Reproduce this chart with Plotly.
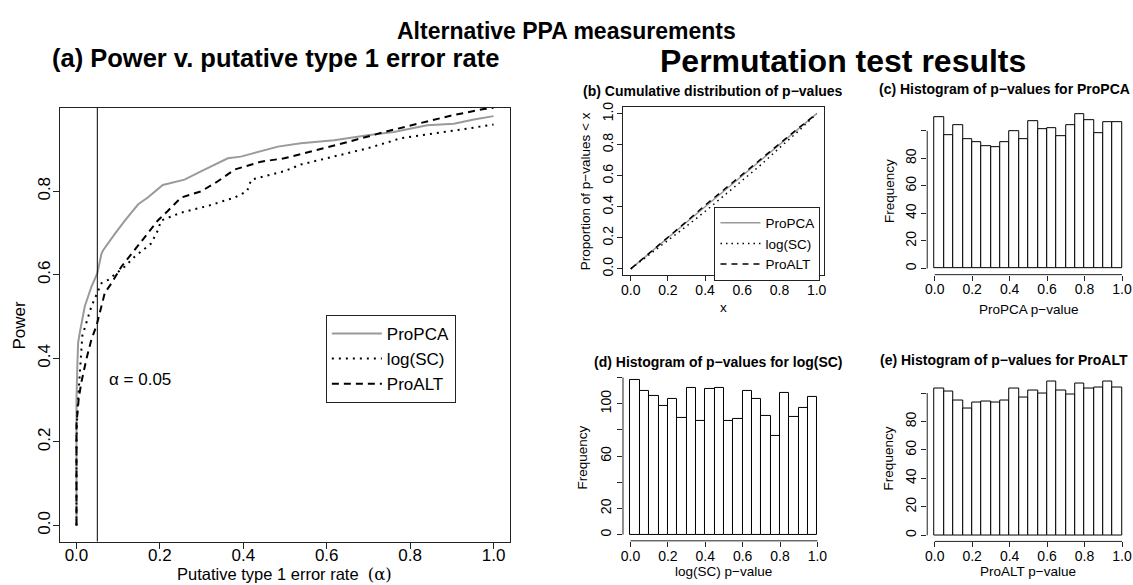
import plotly.graph_objects as go

W, H = 1133, 585
FONT = "Liberation Sans, Arial, Helvetica, sans-serif"
GRAY = "#9a9a9a"
AX = "#222222"

# ---------------- data: panel (a) power curves ----------------
propca_x = [0, 0, 0.002, 0.004, 0.008, 0.02, 0.036, 0.05, 0.06, 0.064, 0.092, 0.116, 0.148, 0.171,
            0.207, 0.259, 0.307, 0.363, 0.394, 0.483, 0.538, 0.618, 0.698, 0.761, 0.841, 0.905, 0.953, 1.0]
propca_y = [0, 0.30, 0.38, 0.438, 0.462, 0.525, 0.572, 0.604, 0.651, 0.659, 0.698, 0.73, 0.769, 0.785,
            0.815, 0.828, 0.852, 0.879, 0.883, 0.907, 0.915, 0.922, 0.934, 0.942, 0.958, 0.962, 0.972, 0.98]

logsc_x = [0, 0, 0.002, 0.006, 0.014, 0.036, 0.052, 0.06, 0.076, 0.116, 0.139, 0.179, 0.195, 0.203,
           0.251, 0.315, 0.379, 0.409, 0.419, 0.498, 0.538, 0.618, 0.698, 0.778, 0.857, 0.937, 1.0]
logsc_y = [0, 0.2, 0.273, 0.328, 0.454, 0.525, 0.564, 0.58, 0.588, 0.62, 0.643, 0.675, 0.706, 0.73,
           0.749, 0.765, 0.785, 0.8, 0.828, 0.848, 0.864, 0.883, 0.903, 0.927, 0.938, 0.95, 0.96]

proalt_x = [0, 0, 0.0055, 0.012, 0.024, 0.036, 0.048, 0.06, 0.068, 0.084, 0.108, 0.139, 0.171, 0.195,
            0.219, 0.251, 0.299, 0.339, 0.379, 0.443, 0.498, 0.577, 0.65, 0.738, 0.817, 0.897, 0.977, 1.0]
proalt_y = [0, 0.242, 0.305, 0.344, 0.399, 0.446, 0.478, 0.525, 0.557, 0.58, 0.62, 0.659, 0.698, 0.73,
            0.753, 0.785, 0.8, 0.824, 0.852, 0.871, 0.879, 0.899, 0.918, 0.942, 0.962, 0.981, 0.997, 1.0]

alpha_level = 0.05

# ---------------- data: panel (b) cumulative distributions ----------------
cdf_x = [0.0, 0.1, 0.2, 0.3, 0.4, 0.5, 0.6, 0.7, 0.8, 0.9, 1.0]
cdf_propca = [0.0, 0.1, 0.2, 0.3, 0.405, 0.505, 0.605, 0.705, 0.805, 0.9, 1.0]
cdf_logsc = [0.0, 0.09, 0.185, 0.275, 0.37, 0.47, 0.57, 0.67, 0.78, 0.885, 1.0]
cdf_proalt = [0.0, 0.1, 0.2, 0.305, 0.41, 0.51, 0.61, 0.71, 0.81, 0.905, 1.0]

# ---------------- data: histograms (20 bins of width 0.05) ----------------
bin_mid = [0.025, 0.075, 0.125, 0.175, 0.225, 0.275, 0.325, 0.375, 0.425, 0.475,
           0.525, 0.575, 0.625, 0.675, 0.725, 0.775, 0.825, 0.875, 0.925, 0.975]
bin_width = 0.05
hist_propca = [110, 97, 104, 94, 92, 89, 88, 92, 100, 94, 107, 101, 102, 96, 104, 112, 108, 98, 106, 106]
hist_logsc = [118, 110, 106, 98, 104, 89, 112, 87, 111, 112, 87, 88, 110, 104, 91, 75, 108, 90, 97, 105]
hist_proalt = [103, 101, 95, 89, 93, 94, 93, 95, 103, 97, 102, 100, 108, 102, 99, 107, 103, 104, 108, 104]

tick01 = [0, 0.2, 0.4, 0.6, 0.8, 1.0]


def dx(a, b):
    return [a / W, b / W]


def dy(top, bottom):
    return [1 - bottom / H, 1 - top / H]


fig = go.Figure()

# panel (a)
fig.add_trace(go.Scatter(x=propca_x, y=propca_y, mode="lines", name="ProPCA",
                         line=dict(color=GRAY, width=2), xaxis="x", yaxis="y", legend="legend"))
fig.add_trace(go.Scatter(x=logsc_x, y=logsc_y, mode="lines", name="log(SC)",
                         line=dict(color="black", width=2, dash="2px,5px"), xaxis="x", yaxis="y", legend="legend"))
fig.add_trace(go.Scatter(x=proalt_x, y=proalt_y, mode="lines", name="ProALT",
                         line=dict(color="black", width=2, dash="7px,5px"), xaxis="x", yaxis="y", legend="legend"))

# panel (b)
fig.add_trace(go.Scatter(x=cdf_x, y=cdf_propca, mode="lines", name="ProPCA",
                         line=dict(color=GRAY, width=1.5), xaxis="x2", yaxis="y2", legend="legend2"))
fig.add_trace(go.Scatter(x=cdf_x, y=cdf_logsc, mode="lines", name="log(SC)",
                         line=dict(color="black", width=1.5, dash="1.5px,4px"), xaxis="x2", yaxis="y2", legend="legend2"))
fig.add_trace(go.Scatter(x=cdf_x, y=cdf_proalt, mode="lines", name="ProALT",
                         line=dict(color="black", width=1.5, dash="6px,5px"), xaxis="x2", yaxis="y2", legend="legend2"))

# histograms
for counts, xa, ya in [(hist_propca, "x3", "y3"), (hist_logsc, "x4", "y4"), (hist_proalt, "x5", "y5")]:
    fig.add_trace(go.Bar(x=bin_mid, y=counts, width=bin_width, xaxis=xa, yaxis=ya, showlegend=False,
                         marker=dict(color="white", line=dict(color="black", width=1))))

common = dict(showgrid=False, zeroline=False, ticks="outside", tickcolor=AX, linecolor=AX)


def xax(domain, anchor, size, box, standoff, ticklen=5, **kw):
    d = dict(domain=domain, range=[-0.04, 1.04], tickvals=tick01, tickformat=".1f",
             showline=box, mirror=box, ticklen=ticklen, anchor=anchor, ticklabelstandoff=standoff,
             tickfont=dict(family=FONT, color="black", size=size), **common)
    d.update(kw)
    return d


def yax(domain, rng, vals, anchor, size, box, standoff, ticklen=5, **kw):
    d = dict(domain=domain, range=rng, tickvals=vals, tickangle=-90,
             showline=box, mirror=box, ticklen=ticklen, anchor=anchor, ticklabelstandoff=standoff,
             tickfont=dict(family=FONT, color="black", size=size), **common)
    d.update(kw)
    return d


layout = dict(
    width=W, height=H, margin=dict(l=0, r=0, t=0, b=0),
    paper_bgcolor="white", plot_bgcolor="white",
    font=dict(family=FONT, color="black"),
    bargap=0,
    xaxis=xax(dx(58, 510), "y", 17, True, -8, ticklen=6),
    yaxis=yax(dy(103, 542), [-0.0385, 1.0], [0, 0.2, 0.4, 0.6, 0.8], "x", 17, True, -4, ticklen=6,
              tickformat=".1f"),
    xaxis2=xax(dx(623.5, 825), "y2", 14, True, -3),
    yaxis2=yax(dy(102.7, 272.3), [-0.04, 1.04], tick01, "x2", 14, True, -1, tickformat=".1f"),
    xaxis3=xax(dx(928.5, 1131.5), "y3", 14, False, -3),
    yaxis3=yax(dy(103.4, 271.9), [-4.48, 116.48], [0, 20, 40, 60, 80, 100], "x3", 14, False, 0,
               ticktext=["0", "20", "40", "60", "80", ""]),
    xaxis4=xax(dx(623.2, 825.8), "y4", 14, False, -3),
    yaxis4=yax(dy(372.4, 541.3), [-4.72, 122.72], [0, 20, 40, 60, 80, 100, 120], "x4", 14, False, 0,
               ticktext=["0", "20", "", "60", "", "100", ""]),
    xaxis5=xax(dx(928.5, 1131.5), "y5", 14, False, -3),
    yaxis5=yax(dy(374, 541.9), [-4.32, 112.32], [0, 20, 40, 60, 80, 100], "x5", 14, False, 0,
               ticktext=["0", "20", "40", "60", "80", ""]),
    legend=dict(x=325 / W, y=1 - 312.7 / H, xanchor="left", yanchor="top", bgcolor="white",
                bordercolor=AX, borderwidth=1, font=dict(size=17, family=FONT), itemwidth=50),
    legend2=dict(x=715 / W, y=1 - 203 / H, xanchor="left", yanchor="top", bgcolor="white",
                 bordercolor=AX, borderwidth=1, font=dict(size=13.5, family=FONT), itemwidth=40),
)
fig.update_layout(**layout)

shapes = []
# alpha = 0.05 vertical line in panel (a)
shapes.append(dict(type="line", xref="x", yref="y domain", x0=alpha_level, x1=alpha_level, y0=0, y1=1,
                   line=dict(color="black", width=1)))
# R-style axis lines (span first to last tick) for the histograms
for xa, ya, ytop in [("x3", "y3", 100), ("x4", "y4", 120), ("x5", "y5", 100)]:
    shapes.append(dict(type="line", xref=xa, yref=f"{ya} domain", x0=0, x1=1, y0=0, y1=0,
                       line=dict(color=AX, width=1)))
    shapes.append(dict(type="line", xref=f"{xa} domain", yref=ya, x0=0, x1=0, y0=0, y1=ytop,
                       line=dict(color=AX, width=1)))
fig.update_layout(shapes=shapes)


def ann(text, x, y, size, bold=False, angle=0, xanchor="center"):
    t = f"<b>{text}</b>" if bold else text
    return dict(text=t, x=x / W, y=1 - y / H, xref="paper", yref="paper", showarrow=False,
                xanchor=xanchor, yanchor="middle", textangle=angle,
                font=dict(size=size, family=FONT, color="black"))


annotations = [
    ann("Alternative PPA measurements", 567, 25, 23, bold=True),
    ann("(a) Power v. putative type 1 error rate", 274, 53, 25.5, bold=True),
    ann("Permutation test results", 844, 56, 32, bold=True),
    ann("(b) Cumulative distribution of p\u2212values", 714, 86, 14, bold=True),
    ann("(c) Histogram of p\u2212values for ProPCA", 1006, 84, 14, bold=True),
    ann("(d) Histogram of p\u2212values for log(SC)", 719, 360, 14, bold=True),
    ann("(e) Histogram of p\u2212values for ProALT", 1006, 358, 14, bold=True),
    ann("Power", 18, 322.5, 17, angle=-90),
    ann("Putative type 1 error rate  <span style='font-family:DejaVu Serif'>(\u03b1)</span>", 284, 575.5, 16.5),
    ann("\u03b1 = 0.05", 105, 377.7, 17, xanchor="left"),
    ann("Proportion of p\u2212values &lt; x", 585, 187.5, 13.5, angle=-90),
    ann("x", 724, 305, 13.5),
    ann("Frequency", 890, 187.5, 13.5, angle=-90),
    ann("ProPCA p\u2212value", 1030, 307, 13.5),
    ann("Frequency", 583, 457, 13.5, angle=-90),
    ann("log(SC) p\u2212value", 724, 572, 13.5),
    ann("Frequency", 890, 458, 13.5, angle=-90),
    ann("ProALT p\u2212value", 1030, 572, 13.5),
]
fig.update_layout(annotations=annotations)

fig.write_html("out.html", config={"displayModeBar": False},
               post_script="document.body.style.margin='0';document.body.style.overflow='hidden';")
